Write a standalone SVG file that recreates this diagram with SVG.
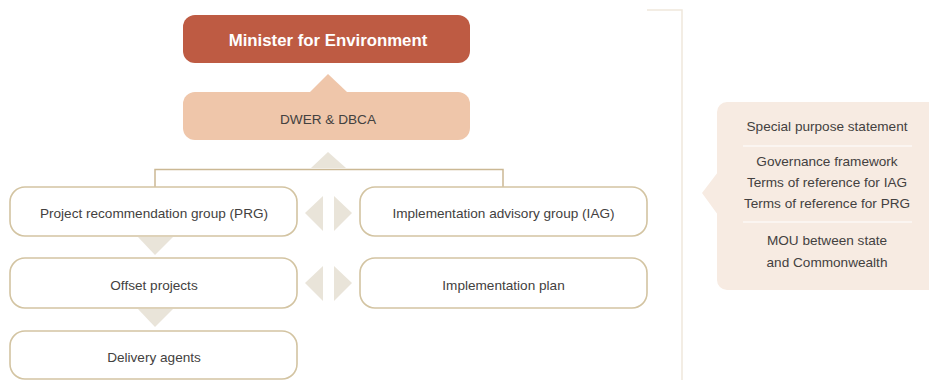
<svg xmlns="http://www.w3.org/2000/svg" width="929" height="380" viewBox="0 0 929 380">
  <style>
    .lbl { font-family: "Liberation Sans", Arial, sans-serif; font-size: 13.6px; fill: #434140; text-anchor: middle; }
    .head { font-family: "Liberation Sans", Arial, sans-serif; font-size: 16.8px; font-weight: bold; fill: #ffffff; text-anchor: middle; }
    .box { fill: #ffffff; stroke: #d3c4a2; stroke-width: 1.6; }
    .flow { fill: #e9e4d9; }
    .link { fill: none; stroke: #cbb894; stroke-width: 1.5; }
    .rule { fill: none; stroke: #efe8dc; stroke-width: 1.5; }
    .sep { stroke: #ffffff; stroke-width: 1.2; }
  </style>

  <rect width="929" height="380" fill="#ffffff"/>

  <!-- frame line dividing the chart from the document panel -->
  <path class="rule" d="M647 10 H682 V380"/>

  <!-- connectors -->
  <g id="connectors">
    <!-- up arrow into Minister -->
    <polygon points="328,74 310,92 347,92" fill="#efc6aa"/>
    <!-- up arrow from groups to DWER & DBCA -->
    <polygon class="flow" points="328,152 311,168 346,168"/>
    <!-- bracket joining the two groups -->
    <path class="link" d="M155 187 V169.5 H503 V187"/>
    <!-- two-way arrows between columns -->
    <polygon class="flow" points="305,213 323,196 323,231"/>
    <polygon class="flow" points="352,213 334,196 334,231"/>
    <polygon class="flow" points="305,283 323,266 323,301"/>
    <polygon class="flow" points="352,283 334,266 334,301"/>
    <!-- down arrows in left column -->
    <polygon class="flow" points="138,237 173,237 155,255"/>
    <polygon class="flow" points="138,309 173,309 155,327"/>
  </g>

  <g id="minister">
    <rect x="183" y="15" width="287" height="48" rx="12" fill="#be5b43"/>
    <text class="head" x="328" y="45.5">Minister for Environment</text>
  </g>

  <g id="dwer-dbca">
    <rect x="183" y="92" width="287" height="48" rx="12" fill="#efc6aa"/>
    <text class="lbl" x="328" y="124">DWER &amp; DBCA</text>
  </g>

  <g id="prg">
    <rect class="box" x="10" y="187" width="287" height="49" rx="15"/>
    <text class="lbl" x="154" y="217.5">Project recommendation group (PRG)</text>
  </g>

  <g id="iag">
    <rect class="box" x="360" y="187" width="287" height="49" rx="15"/>
    <text class="lbl" x="503.5" y="217.5">Implementation advisory group (IAG)</text>
  </g>

  <g id="offset-projects">
    <rect class="box" x="10" y="258" width="287" height="50" rx="15"/>
    <text class="lbl" x="154" y="289.5">Offset projects</text>
  </g>

  <g id="implementation-plan">
    <rect class="box" x="360" y="258" width="287" height="50" rx="15"/>
    <text class="lbl" x="503.5" y="289.5">Implementation plan</text>
  </g>

  <g id="delivery-agents">
    <rect class="box" x="10" y="331" width="287" height="48" rx="15"/>
    <text class="lbl" x="154" y="361.5">Delivery agents</text>
  </g>

  <g id="documents">
    <polygon points="702,193 718,172 718,215" fill="#f7ebe2"/>
    <rect x="717" y="102" width="230" height="188" rx="10" fill="#f7ebe2"/>
    <text class="lbl" x="827" y="131">Special purpose statement</text>
    <line class="sep" x1="743" y1="146" x2="912" y2="146"/>
    <text class="lbl" x="827" y="166">Governance framework</text>
    <text class="lbl" x="827" y="187">Terms of reference for IAG</text>
    <text class="lbl" x="827" y="208">Terms of reference for PRG</text>
    <line class="sep" x1="743" y1="222" x2="912" y2="222"/>
    <text class="lbl" x="827" y="245">MOU between state</text>
    <text class="lbl" x="827" y="267">and Commonwealth</text>
  </g>
</svg>
